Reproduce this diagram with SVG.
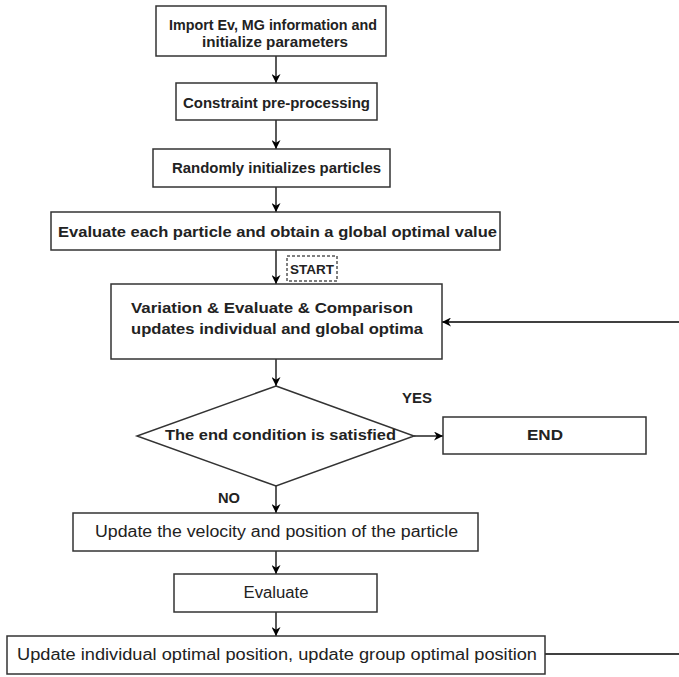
<svg xmlns="http://www.w3.org/2000/svg" width="679" height="677" viewBox="0 0 679 677">
<defs>
<marker id="ah" viewBox="0 0 10 10" refX="10" refY="5" markerWidth="9" markerHeight="9" markerUnits="userSpaceOnUse" orient="auto">
<path d="M0,0 L10,5 L0,10 L3,5 Z" fill="#000"/>
</marker>
<style>
.box{fill:#fff;stroke:#333;stroke-width:1.5}
.t{font-family:"Liberation Sans",Arial,sans-serif;fill:#222}
.b{font-weight:bold;font-size:15px}
.r{font-size:16px}
.c{text-anchor:middle}
.ln{fill:none;stroke:#000;stroke-width:1.3}
</style>
</defs>
<rect width="679" height="677" fill="#fff"/>
<g id="connectors">
<line class="ln" x1="276" y1="56" x2="276" y2="83" marker-end="url(#ah)"/>
<line class="ln" x1="276" y1="120" x2="276" y2="149" marker-end="url(#ah)"/>
<line class="ln" x1="276" y1="187" x2="276" y2="212" marker-end="url(#ah)"/>
<line class="ln" x1="276" y1="250" x2="276" y2="284" marker-end="url(#ah)"/>
<line class="ln" x1="276" y1="359" x2="276" y2="386" marker-end="url(#ah)"/>
<line class="ln" x1="414" y1="436" x2="443" y2="436" marker-end="url(#ah)"/>
<line class="ln" x1="276" y1="486" x2="276" y2="513" marker-end="url(#ah)"/>
<line class="ln" x1="276" y1="551" x2="276" y2="574" marker-end="url(#ah)"/>
<line class="ln" x1="276" y1="612" x2="276" y2="636" marker-end="url(#ah)"/>
<line class="ln" x1="680" y1="322" x2="442" y2="322" marker-end="url(#ah)"/>
<line class="ln" x1="545" y1="654" x2="680" y2="654"/>
</g>
<g id="n1">
<rect class="box" x="156" y="6" width="230" height="50"/>
<text class="t b c" x="273" y="30" textLength="208" lengthAdjust="spacingAndGlyphs">Import Ev, MG information and</text>
<text class="t b c" x="275" y="47" textLength="146" lengthAdjust="spacingAndGlyphs">initialize parameters</text>
</g>
<g id="n2">
<rect class="box" x="176" y="83" width="201" height="37"/>
<text class="t b c" x="276.5" y="108" textLength="187" lengthAdjust="spacingAndGlyphs">Constraint pre-processing</text>
</g>
<g id="n3">
<rect class="box" x="153" y="149" width="237" height="38"/>
<text class="t b c" x="276.5" y="173" textLength="209" lengthAdjust="spacingAndGlyphs">Randomly initializes particles</text>
</g>
<g id="n4">
<rect class="box" x="51" y="212" width="449" height="38"/>
<text class="t b c" x="277.5" y="237" textLength="439" lengthAdjust="spacingAndGlyphs">Evaluate each particle and obtain a global optimal value</text>
</g>
<g id="start">
<rect x="287" y="256" width="50" height="25" fill="#fff" stroke="#000" stroke-width="1" stroke-dasharray="3,2"/>
<text class="t c" x="312" y="274" font-size="13" font-weight="bold" textLength="44" lengthAdjust="spacingAndGlyphs">START</text>
</g>
<g id="n5">
<rect class="box" x="111" y="284" width="331" height="75"/>
<text class="t b" x="131" y="313" font-size="16" textLength="282" lengthAdjust="spacingAndGlyphs">Variation &amp; Evaluate &amp; Comparison</text>
<text class="t b" x="131" y="334" font-size="16" textLength="292" lengthAdjust="spacingAndGlyphs">updates individual and global optima</text>
</g>
<g id="n6">
<polygon class="box" points="276,386 414,436 276,486 137,436"/>
<text class="t b c" x="280.5" y="440" textLength="231" lengthAdjust="spacingAndGlyphs">The end condition is satisfied</text>
</g>
<g id="end">
<rect class="box" x="443" y="417" width="203" height="37"/>
<text class="t b c" x="545" y="440" textLength="36" lengthAdjust="spacingAndGlyphs">END</text>
</g>
<g id="labels">
<text class="t" x="402" y="403" font-size="14" font-weight="bold" textLength="30" lengthAdjust="spacingAndGlyphs">YES</text>
<text class="t" x="218" y="503" font-size="14" font-weight="bold" textLength="22" lengthAdjust="spacingAndGlyphs">NO</text>
</g>
<g id="n7">
<rect class="box" x="73" y="513" width="405" height="38"/>
<text class="t r c" x="276.5" y="537" textLength="363" lengthAdjust="spacingAndGlyphs">Update the velocity and position of the particle</text>
</g>
<g id="n8">
<rect class="box" x="174" y="574" width="203" height="38"/>
<text class="t r c" x="276" y="598" textLength="65" lengthAdjust="spacingAndGlyphs">Evaluate</text>
</g>
<g id="n9">
<rect class="box" x="7" y="636" width="538" height="38"/>
<text class="t r c" x="277" y="660" textLength="520" lengthAdjust="spacingAndGlyphs">Update individual optimal position, update group optimal position</text>
</g>
</svg>
